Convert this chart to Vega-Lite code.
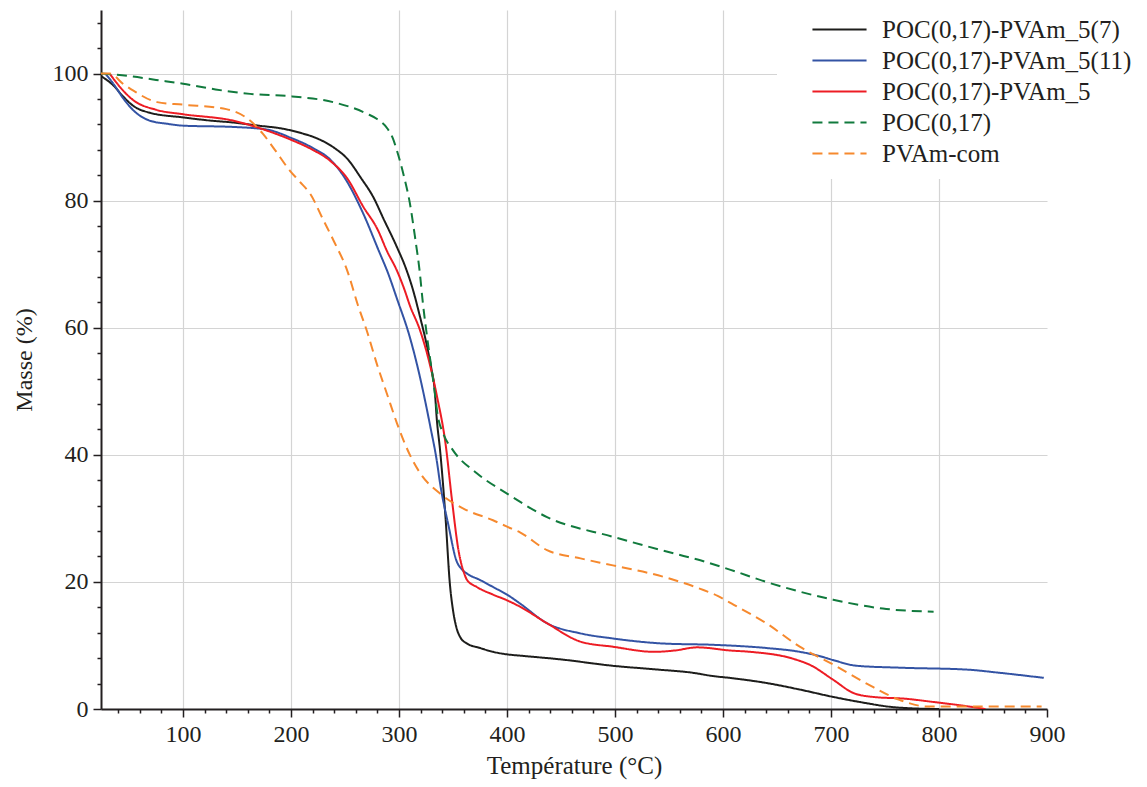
{
  "$schema": "https://vega.github.io/schema/vega-lite/v6.json",
  "width": 946,
  "height": 699,
  "autosize": {"type": "none"},
  "padding": {"left": 101, "top": 10, "right": 100, "bottom": 78},
  "background": "white",
  "config": {
    "font": "Liberation Serif",
    "view": {"stroke": null}
  },
  "datasets": {
    "tga": [
      {"s":"POC(0,17)-PVAm_5(7)","t":24,"m":99.6},{"s":"POC(0,17)-PVAm_5(7)","t":35,"m":98.2},{"s":"POC(0,17)-PVAm_5(7)","t":45,"m":96.3},{"s":"POC(0,17)-PVAm_5(7)","t":54,"m":94.9},{"s":"POC(0,17)-PVAm_5(7)","t":70,"m":93.8},{"s":"POC(0,17)-PVAm_5(7)","t":100,"m":93.1},{"s":"POC(0,17)-PVAm_5(7)","t":125,"m":92.6},{"s":"POC(0,17)-PVAm_5(7)","t":146,"m":92.3},{"s":"POC(0,17)-PVAm_5(7)","t":170,"m":91.8},{"s":"POC(0,17)-PVAm_5(7)","t":193,"m":91.3},{"s":"POC(0,17)-PVAm_5(7)","t":210,"m":90.6},{"s":"POC(0,17)-PVAm_5(7)","t":224,"m":89.8},{"s":"POC(0,17)-PVAm_5(7)","t":240,"m":88.3},{"s":"POC(0,17)-PVAm_5(7)","t":252,"m":86.6},{"s":"POC(0,17)-PVAm_5(7)","t":265,"m":83.5},{"s":"POC(0,17)-PVAm_5(7)","t":276,"m":80.6},{"s":"POC(0,17)-PVAm_5(7)","t":286,"m":77},{"s":"POC(0,17)-PVAm_5(7)","t":298,"m":72.7},{"s":"POC(0,17)-PVAm_5(7)","t":306,"m":69.5},{"s":"POC(0,17)-PVAm_5(7)","t":313,"m":65.9},{"s":"POC(0,17)-PVAm_5(7)","t":319,"m":62},{"s":"POC(0,17)-PVAm_5(7)","t":326,"m":57},{"s":"POC(0,17)-PVAm_5(7)","t":330,"m":53.5},{"s":"POC(0,17)-PVAm_5(7)","t":333,"m":50.2},{"s":"POC(0,17)-PVAm_5(7)","t":335,"m":45.5},{"s":"POC(0,17)-PVAm_5(7)","t":338,"m":40.7},{"s":"POC(0,17)-PVAm_5(7)","t":343,"m":30.2},{"s":"POC(0,17)-PVAm_5(7)","t":347,"m":19.8},{"s":"POC(0,17)-PVAm_5(7)","t":350,"m":15.5},{"s":"POC(0,17)-PVAm_5(7)","t":353,"m":12.9},{"s":"POC(0,17)-PVAm_5(7)","t":357,"m":11.2},{"s":"POC(0,17)-PVAm_5(7)","t":363,"m":10.3},{"s":"POC(0,17)-PVAm_5(7)","t":375,"m":9.6},{"s":"POC(0,17)-PVAm_5(7)","t":387,"m":9.0},{"s":"POC(0,17)-PVAm_5(7)","t":400,"m":8.6},{"s":"POC(0,17)-PVAm_5(7)","t":412,"m":8.4},{"s":"POC(0,17)-PVAm_5(7)","t":450,"m":7.8},{"s":"POC(0,17)-PVAm_5(7)","t":498,"m":6.8},{"s":"POC(0,17)-PVAm_5(7)","t":540,"m":6.2},{"s":"POC(0,17)-PVAm_5(7)","t":572,"m":5.7},{"s":"POC(0,17)-PVAm_5(7)","t":590,"m":5.2},{"s":"POC(0,17)-PVAm_5(7)","t":606,"m":4.9},{"s":"POC(0,17)-PVAm_5(7)","t":640,"m":4.1},{"s":"POC(0,17)-PVAm_5(7)","t":670,"m":3.1},{"s":"POC(0,17)-PVAm_5(7)","t":702,"m":1.9},{"s":"POC(0,17)-PVAm_5(7)","t":730,"m":1.0},{"s":"POC(0,17)-PVAm_5(7)","t":752,"m":0.4},{"s":"POC(0,17)-PVAm_5(7)","t":775,"m":0.1},{"s":"POC(0,17)-PVAm_5(7)","t":800,"m":0},

      {"s":"POC(0,17)-PVAm_5(11)","t":28,"m":100},{"s":"POC(0,17)-PVAm_5(11)","t":35,"m":98.5},{"s":"POC(0,17)-PVAm_5(11)","t":45,"m":96},{"s":"POC(0,17)-PVAm_5(11)","t":54,"m":94.2},{"s":"POC(0,17)-PVAm_5(11)","t":69,"m":92.6},{"s":"POC(0,17)-PVAm_5(11)","t":85,"m":92.1},{"s":"POC(0,17)-PVAm_5(11)","t":100,"m":91.8},{"s":"POC(0,17)-PVAm_5(11)","t":146,"m":91.6},{"s":"POC(0,17)-PVAm_5(11)","t":177,"m":91.2},{"s":"POC(0,17)-PVAm_5(11)","t":201,"m":89.8},{"s":"POC(0,17)-PVAm_5(11)","t":220,"m":88.3},{"s":"POC(0,17)-PVAm_5(11)","t":236,"m":86.5},{"s":"POC(0,17)-PVAm_5(11)","t":250,"m":83.5},{"s":"POC(0,17)-PVAm_5(11)","t":267,"m":77.9},{"s":"POC(0,17)-PVAm_5(11)","t":281,"m":72.2},{"s":"POC(0,17)-PVAm_5(11)","t":290,"m":68.5},{"s":"POC(0,17)-PVAm_5(11)","t":298,"m":64.6},{"s":"POC(0,17)-PVAm_5(11)","t":310,"m":58.5},{"s":"POC(0,17)-PVAm_5(11)","t":319,"m":52.5},{"s":"POC(0,17)-PVAm_5(11)","t":329,"m":44.4},{"s":"POC(0,17)-PVAm_5(11)","t":335,"m":39},{"s":"POC(0,17)-PVAm_5(11)","t":338,"m":35.5},{"s":"POC(0,17)-PVAm_5(11)","t":346,"m":28.7},{"s":"POC(0,17)-PVAm_5(11)","t":353,"m":23.4},{"s":"POC(0,17)-PVAm_5(11)","t":358,"m":22},{"s":"POC(0,17)-PVAm_5(11)","t":363,"m":21.3},{"s":"POC(0,17)-PVAm_5(11)","t":375,"m":20.3},{"s":"POC(0,17)-PVAm_5(11)","t":387,"m":19.2},{"s":"POC(0,17)-PVAm_5(11)","t":400,"m":18.0},{"s":"POC(0,17)-PVAm_5(11)","t":412,"m":16.6},{"s":"POC(0,17)-PVAm_5(11)","t":437,"m":13.5},{"s":"POC(0,17)-PVAm_5(11)","t":468,"m":11.9},{"s":"POC(0,17)-PVAm_5(11)","t":498,"m":11.1},{"s":"POC(0,17)-PVAm_5(11)","t":545,"m":10.3},{"s":"POC(0,17)-PVAm_5(11)","t":591,"m":10.1},{"s":"POC(0,17)-PVAm_5(11)","t":640,"m":9.6},{"s":"POC(0,17)-PVAm_5(11)","t":671,"m":9.0},{"s":"POC(0,17)-PVAm_5(11)","t":690,"m":8.3},{"s":"POC(0,17)-PVAm_5(11)","t":702,"m":7.7},{"s":"POC(0,17)-PVAm_5(11)","t":724,"m":6.8},{"s":"POC(0,17)-PVAm_5(11)","t":764,"m":6.5},{"s":"POC(0,17)-PVAm_5(11)","t":826,"m":6.2},{"s":"POC(0,17)-PVAm_5(11)","t":856,"m":5.7},{"s":"POC(0,17)-PVAm_5(11)","t":897,"m":4.9},

      {"s":"POC(0,17)-PVAm_5","t":32,"m":100},{"s":"POC(0,17)-PVAm_5","t":40,"m":98.2},{"s":"POC(0,17)-PVAm_5","t":54,"m":95.8},{"s":"POC(0,17)-PVAm_5","t":75,"m":94.3},{"s":"POC(0,17)-PVAm_5","t":100,"m":93.6},{"s":"POC(0,17)-PVAm_5","t":146,"m":92.6},{"s":"POC(0,17)-PVAm_5","t":178,"m":91},{"s":"POC(0,17)-PVAm_5","t":201,"m":89.5},{"s":"POC(0,17)-PVAm_5","t":220,"m":88},{"s":"POC(0,17)-PVAm_5","t":236,"m":86.3},{"s":"POC(0,17)-PVAm_5","t":252,"m":83.5},{"s":"POC(0,17)-PVAm_5","t":267,"m":79},{"s":"POC(0,17)-PVAm_5","t":280,"m":75.5},{"s":"POC(0,17)-PVAm_5","t":289,"m":72},{"s":"POC(0,17)-PVAm_5","t":298,"m":69},{"s":"POC(0,17)-PVAm_5","t":305,"m":66},{"s":"POC(0,17)-PVAm_5","t":310,"m":63.5},{"s":"POC(0,17)-PVAm_5","t":319,"m":59.8},{"s":"POC(0,17)-PVAm_5","t":326,"m":55.9},{"s":"POC(0,17)-PVAm_5","t":335,"m":49.3},{"s":"POC(0,17)-PVAm_5","t":343,"m":41.8},{"s":"POC(0,17)-PVAm_5","t":349,"m":32.9},{"s":"POC(0,17)-PVAm_5","t":355,"m":25},{"s":"POC(0,17)-PVAm_5","t":360,"m":21.5},{"s":"POC(0,17)-PVAm_5","t":363,"m":20.3},{"s":"POC(0,17)-PVAm_5","t":372,"m":19.2},{"s":"POC(0,17)-PVAm_5","t":387,"m":18},{"s":"POC(0,17)-PVAm_5","t":400,"m":17.1},{"s":"POC(0,17)-PVAm_5","t":412,"m":16.1},{"s":"POC(0,17)-PVAm_5","t":437,"m":13.5},{"s":"POC(0,17)-PVAm_5","t":468,"m":10.6},{"s":"POC(0,17)-PVAm_5","t":498,"m":9.8},{"s":"POC(0,17)-PVAm_5","t":536,"m":9.0},{"s":"POC(0,17)-PVAm_5","t":555,"m":9.2},{"s":"POC(0,17)-PVAm_5","t":576,"m":9.7},{"s":"POC(0,17)-PVAm_5","t":607,"m":9.2},{"s":"POC(0,17)-PVAm_5","t":625,"m":9.0},{"s":"POC(0,17)-PVAm_5","t":665,"m":7.9},{"s":"POC(0,17)-PVAm_5","t":681,"m":6.9},{"s":"POC(0,17)-PVAm_5","t":702,"m":4.6},{"s":"POC(0,17)-PVAm_5","t":721,"m":2.5},{"s":"POC(0,17)-PVAm_5","t":739,"m":1.9},{"s":"POC(0,17)-PVAm_5","t":770,"m":1.6},{"s":"POC(0,17)-PVAm_5","t":795,"m":1.1},{"s":"POC(0,17)-PVAm_5","t":819,"m":0.6},{"s":"POC(0,17)-PVAm_5","t":843,"m":0},

      {"s":"POC(0,17)","t":24,"m":100},{"s":"POC(0,17)","t":50,"m":99.6},{"s":"POC(0,17)","t":75,"m":99},{"s":"POC(0,17)","t":100,"m":98.4},{"s":"POC(0,17)","t":130,"m":97.5},{"s":"POC(0,17)","t":162,"m":96.8},{"s":"POC(0,17)","t":201,"m":96.4},{"s":"POC(0,17)","t":239,"m":95.5},{"s":"POC(0,17)","t":270,"m":93.7},{"s":"POC(0,17)","t":280,"m":92.8},{"s":"POC(0,17)","t":289,"m":91.4},{"s":"POC(0,17)","t":294,"m":89.9},{"s":"POC(0,17)","t":298,"m":87.9},{"s":"POC(0,17)","t":305,"m":83.5},{"s":"POC(0,17)","t":310,"m":79.6},{"s":"POC(0,17)","t":315,"m":74},{"s":"POC(0,17)","t":319,"m":69},{"s":"POC(0,17)","t":322,"m":64},{"s":"POC(0,17)","t":326,"m":58.5},{"s":"POC(0,17)","t":332,"m":51.2},{"s":"POC(0,17)","t":336,"m":46},{"s":"POC(0,17)","t":341,"m":43.3},{"s":"POC(0,17)","t":350,"m":40.7},{"s":"POC(0,17)","t":372,"m":37.1},{"s":"POC(0,17)","t":400,"m":33.9},{"s":"POC(0,17)","t":437,"m":30.2},{"s":"POC(0,17)","t":498,"m":27.1},{"s":"POC(0,17)","t":554,"m":24.5},{"s":"POC(0,17)","t":579,"m":23.4},{"s":"POC(0,17)","t":607,"m":21.9},{"s":"POC(0,17)","t":640,"m":20.0},{"s":"POC(0,17)","t":702,"m":17.2},{"s":"POC(0,17)","t":748,"m":15.8},{"s":"POC(0,17)","t":795,"m":15.3},

      {"s":"PVAm-com","t":24,"m":100},{"s":"PVAm-com","t":32,"m":100},{"s":"PVAm-com","t":45,"m":98.3},{"s":"PVAm-com","t":54,"m":97.3},{"s":"PVAm-com","t":76,"m":95.5},{"s":"PVAm-com","t":100,"m":95.1},{"s":"PVAm-com","t":140,"m":94.4},{"s":"PVAm-com","t":162,"m":92.6},{"s":"PVAm-com","t":174,"m":90.5},{"s":"PVAm-com","t":185,"m":88},{"s":"PVAm-com","t":199,"m":84.7},{"s":"PVAm-com","t":208,"m":83},{"s":"PVAm-com","t":218,"m":81},{"s":"PVAm-com","t":230,"m":76.9},{"s":"PVAm-com","t":240,"m":73.5},{"s":"PVAm-com","t":252,"m":69},{"s":"PVAm-com","t":262,"m":63.5},{"s":"PVAm-com","t":270,"m":59.6},{"s":"PVAm-com","t":280,"m":54},{"s":"PVAm-com","t":289,"m":49.5},{"s":"PVAm-com","t":298,"m":45},{"s":"PVAm-com","t":310,"m":40},{"s":"PVAm-com","t":320,"m":37},{"s":"PVAm-com","t":338,"m":33.9},{"s":"PVAm-com","t":360,"m":31.5},{"s":"PVAm-com","t":387,"m":29.7},{"s":"PVAm-com","t":400,"m":28.7},{"s":"PVAm-com","t":412,"m":27.8},{"s":"PVAm-com","t":437,"m":25},{"s":"PVAm-com","t":468,"m":23.7},{"s":"PVAm-com","t":498,"m":22.6},{"s":"PVAm-com","t":545,"m":20.8},{"s":"PVAm-com","t":579,"m":18.9},{"s":"PVAm-com","t":595,"m":17.8},{"s":"PVAm-com","t":610,"m":16.4},{"s":"PVAm-com","t":640,"m":13.5},{"s":"PVAm-com","t":671,"m":9.8},{"s":"PVAm-com","t":702,"m":7.0},{"s":"PVAm-com","t":733,"m":4.0},{"s":"PVAm-com","t":764,"m":1.4},{"s":"PVAm-com","t":789,"m":0.4},{"s":"PVAm-com","t":830,"m":0.4},{"s":"PVAm-com","t":895,"m":0.4}
    ]
  },
  "data": {"name": "tga"},
  "layer": [
    {
      "mark": {"type": "line", "strokeWidth": 2, "clip": true, "interpolate": "monotone"},
      "encoding": {
        "x": {
          "field": "t", "type": "quantitative",
          "scale": {"domain": [24, 900], "nice": false, "zero": false},
          "axis": {
            "orient": "bottom",
            "title": "Température (°C)",
            "values": [100, 200, 300, 400, 500, 600, 700, 800, 900],
            "grid": true,
            "gridColor": {"condition": {"test": "datum.value == 900", "value": "transparent"}, "value": "#d4d4d4"},
            "gridWidth": 1.2,
            "domainColor": "#231f20", "domainWidth": 2,
            "tickColor": "#231f20", "tickSize": 8, "tickWidth": 1.5,
            "labelFont": "Liberation Serif", "labelFontSize": 24, "labelColor": "#231f20",
            "labelPadding": 5, "labelFlush": false,
            "titleFont": "Liberation Serif", "titleFontSize": 25, "titleFontWeight": "normal", "titleColor": "#231f20",
            "titlePadding": 7
          }
        },
        "y": {
          "field": "m", "type": "quantitative",
          "scale": {"domain": [0, 110], "nice": false},
          "axis": {
            "orient": "left",
            "title": "Masse (%)",
            "values": [0, 20, 40, 60, 80, 100],
            "grid": true, "gridColor": "#d4d4d4", "gridWidth": 1.2,
            "domainColor": "#231f20", "domainWidth": 2,
            "tickColor": "#231f20", "tickSize": 8, "tickWidth": 1.5,
            "labelFont": "Liberation Serif", "labelFontSize": 24, "labelColor": "#231f20",
            "labelPadding": 5,
            "titleFont": "Liberation Serif", "titleFontSize": 24, "titleFontWeight": "normal", "titleColor": "#231f20",
            "titlePadding": 16
          }
        },
        "color": {
          "field": "s", "type": "nominal",
          "scale": {
            "domain": ["POC(0,17)-PVAm_5(7)", "POC(0,17)-PVAm_5(11)", "POC(0,17)-PVAm_5", "POC(0,17)", "PVAm-com"],
            "range": ["#1d1d1b", "#3353a4", "#ed1c24", "#117a3d", "#f6892e"]
          },
          "legend": {
            "title": null, "orient": "none", "legendX": 676, "legendY": -5,
            "fillColor": "white", "padding": 12,
            "symbolType": "M-2.55,0H2.55", "symbolSize": 450, "symbolStrokeWidth": 2,
            "symbolOffset": 38, "labelOffset": 30,
            "labelFont": "Liberation Serif", "labelFontSize": 25, "labelColor": "#231f20", "labelLimit": 400,
            "rowPadding": 5
          }
        },
        "strokeDash": {
          "field": "s", "type": "nominal",
          "scale": {
            "domain": ["POC(0,17)-PVAm_5(7)", "POC(0,17)-PVAm_5(11)", "POC(0,17)-PVAm_5", "POC(0,17)", "PVAm-com"],
            "range": [[1, 0], [1, 0], [1, 0], [10, 6], [10, 6]]
          },
          "legend": {
            "title": null, "orient": "none", "legendX": 676, "legendY": -5,
            "fillColor": "white", "padding": 12,
            "symbolType": "M-2.55,0H2.55", "symbolSize": 450, "symbolStrokeWidth": 2,
            "symbolOffset": 38, "labelOffset": 30,
            "labelFont": "Liberation Serif", "labelFontSize": 25, "labelColor": "#231f20", "labelLimit": 400,
            "rowPadding": 5
          }
        },
        "order": {"field": "t", "type": "quantitative"}
      }
    },
    {
      "mark": {"type": "line", "opacity": 0},
      "encoding": {
        "x": {
          "field": "t", "type": "quantitative",
          "axis": {
            "orient": "bottom",
            "title": null, "labels": false, "grid": false, "domain": false,
            "values": [40, 60, 80, 120, 140, 160, 180, 220, 240, 260, 280, 320, 340, 360, 380, 420, 440, 460, 480, 520, 540, 560, 580, 620, 640, 660, 680, 720, 740, 760, 780, 820, 840, 860, 880],
            "tickColor": "#231f20", "tickSize": 4, "tickWidth": 1.5
          }
        },
        "y": {
          "field": "m", "type": "quantitative",
          "axis": {
            "orient": "left",
            "title": null, "labels": false, "grid": false, "domain": false,
            "values": [4, 8, 12, 16, 24, 28, 32, 36, 44, 48, 52, 56, 64, 68, 72, 76, 84, 88, 92, 96, 104, 108],
            "tickColor": "#231f20", "tickSize": 4, "tickWidth": 1.5
          }
        },
        "detail": {"field": "s"}
      }
    }
  ],
  "resolve": {"axis": {"x": "independent", "y": "independent"}}
}
